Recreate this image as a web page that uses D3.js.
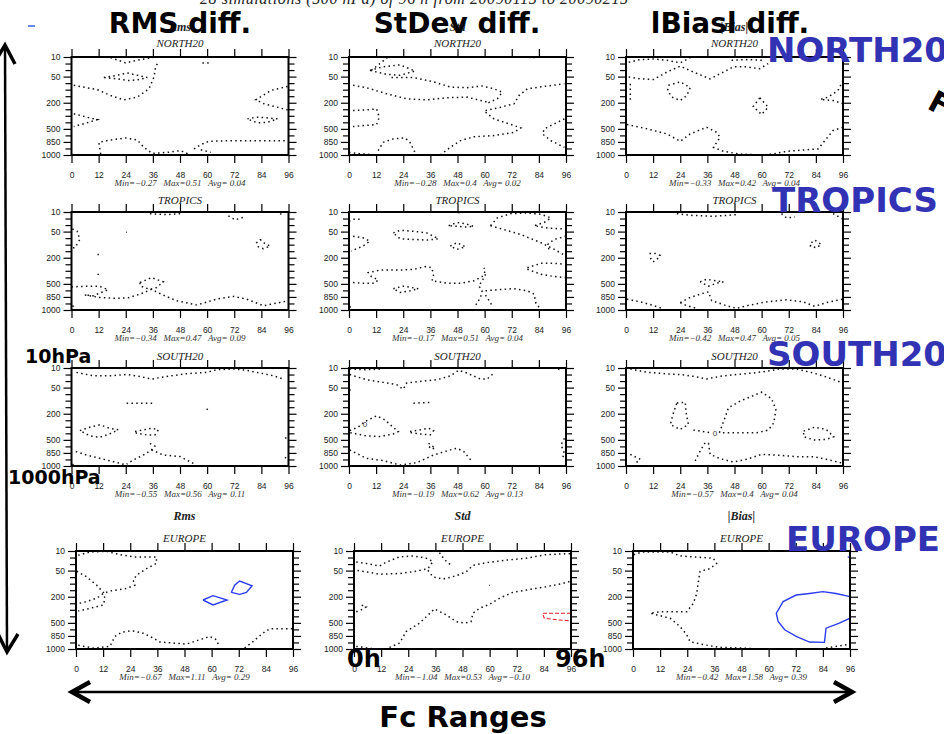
<!DOCTYPE html>
<html><head><meta charset="utf-8">
<script src="https://cdn.jsdelivr.net/npm/d3@7"></script>
<style>body{margin:0;background:#fff}svg{display:block}</style>
</head><body>
<svg id="chart" width="944" height="734"></svg>
<script>
// ---------- data ----------
const regions = ["NORTH20", "TROPICS", "SOUTH20", "EUROPE"];
const statNames = ["Rms", "Std", "|Bias|"];
const headings = ["RMS diff.", "StDev diff.", "lBiasl diff."];
const hourTicks = [0, 12, 24, 36, 48, 60, 72, 84, 96];
const levels = [10, 20, 30, 50, 70, 100, 150, 200, 250, 300, 400, 500, 700, 850, 925, 1000];
const levelLabels = [10, 50, 200, 500, 850, 1000];
const rmsStats  = ["Min=\u22120.27   Max=0.51   Avg= 0.04", "Min=\u22120.34   Max=0.47   Avg= 0.09", "Min=\u22120.55   Max=0.56   Avg= 0.11", "Min=\u22120.67   Max=1.11   Avg= 0.29"];
const stdStats  = ["Min=\u22120.28   Max=0.4   Avg= 0.02", "Min=\u22120.17   Max=0.51   Avg= 0.04", "Min=\u22120.19   Max=0.62   Avg= 0.13", "Min=\u22121.04   Max=0.53   Avg=\u22120.10"];
const biasStats = ["Min=\u22120.33   Max=0.42   Avg= 0.04", "Min=\u22120.42   Max=0.47   Avg= 0.05", "Min=\u22120.57   Max=0.4   Avg= 0.04", "Min=\u22120.42   Max=1.58   Avg= 0.39"];

// zero contours, [forecast hour, pressure hPa]
const north20Rms = [
 [[17.3,11],[23.9,19],[29.1,15],[37.2,10]],
 [[1,80],[11.4,100],[17.3,145],[23.2,178],[29.1,157],[34.3,96],[36.5,51],[37.2,25],[38.7,16]],
 [[14.3,53],[20.2,46],[24.7,39],[29.1,46],[33.5,53],[29.1,60],[24.7,62],[20.2,57],[14.3,53]],
 [[57.9,19],[60.8,19]],
 [[1,285],[6.9,322],[11.4,357],[6.2,414],[1,465]],
 [[95.6,85],[88.2,106],[81.5,178],[85.2,208],[95.6,255]],
 [[77.8,347],[82.3,322],[86.7,332],[91.1,347],[86.7,399],[82.3,409],[77.8,347]],
 [[12.9,989],[12.1,855],[17.3,805],[23.9,758],[29.1,805],[32,912],[35.7,981],[42.4,970],[48.3,950],[52.7,1000]],
 [[54.2,931],[57.2,881],[60.8,835],[71.9,820],[95.6,820]],
 [[57.2,940],[61.6,970]]
];
const north20Std = [
 [[9.9,31],[13.7,20],[16.9,11]],
 [[9.2,31],[15.1,25],[22.6,22],[29.2,33],[22.6,46],[16.6,43],[9.2,31]],
 [[18.8,53],[28.5,53],[37.4,66],[44.8,88],[52.2,91],[58.9,83],[64.1,96],[67.8,119],[65.6,170],[61.1,204]],
 [[1.8,80],[7.7,91],[16.6,131],[25.5,170],[34.4,178],[43.3,162],[52.2,157],[61.1,195]],
 [[60.4,260],[67.1,234],[73,208],[75.2,145],[78.9,96],[86.4,85],[95.3,73]],
 [[60.4,272],[64.1,347],[70,414],[76,485],[73,605],[64.1,705],[55.2,730],[49.3,820],[44.8,912],[40.4,1000]],
 [[1.8,260],[7.7,255],[12.2,247],[13.4,322],[12.2,434],[6.2,450],[1.8,465]],
 [[12.9,950],[15.1,855],[19.6,780],[24.8,758],[27,855],[29.2,970]],
 [[0,970],[4.7,985],[12.2,1000]],
 [[95.3,347],[90.8,424],[86.4,500],[85.6,655],[89.3,820],[95.3,912]],
 [[75.2,10],[83.4,11]]
];
const north20Bias = [
 [[1.2,18],[6.3,14],[12.2,13],[18.1,15],[24,19],[28.4,11]],
 [[1.2,51],[6.3,57],[12.2,59],[18.1,36],[24,24],[29.8,36],[37.2,57],[43.1,36],[47.5,25],[53.4,25],[59.2,28],[62.9,20]],
 [[46.7,15],[53.4,14],[60.7,15]],
 [[1.9,73],[1.9,183]],
 [[18.8,80],[24,66],[28.4,91],[26.9,145],[24,183],[20.3,157],[18.4,106],[18.8,80]],
 [[59.2,162],[62.9,234],[60,290],[56.3,229],[59.2,162]],
 [[0.4,434],[9.3,500],[18.1,655],[24,835],[28.4,655],[35.7,475],[40.1,605],[41.6,743],[38.7,912],[43.1,958],[50.4,989],[59.2,1000],[65.1,989],[71,958],[78.4,942],[85,931],[88.6,780],[91.6,550],[96,475]],
 [[96,62],[93.8,106],[89.4,157],[86,175],[91.6,183],[96,208]]
];
const tropicsRms = [
 [[34.7,12.5],[42.1,14],[48.7,12.5]],
 [[69.4,16],[72.4,22],[76.1,18]],
 [[92.3,12.5],[94.1,16]],
 [[0.4,42],[2.5,49],[3.7,76],[1.5,124],[0,124]],
 [[83.5,76],[84.9,91],[87.9,111],[84.9,131],[82.6,116],[81.9,91],[83.5,76]],
 [[11.5,175],[12.1,175]],
 [[11.8,345],[11.8,365]],
 [[24.1,52],[24.4,52]],
 [[0,590],[6.6,575],[12.5,575],[16.2,680],[12.5,763],[9.6,823],[6.6,808]],
 [[5.9,808],[12.5,856],[19.9,867],[25.1,860],[30.3,786],[35.4,670],[40.6,808],[46.5,893],[55.4,943]],
 [[30.3,480],[35.4,404],[40.6,469],[37.7,612],[34.7,670],[30.3,560],[30.3,480]],
 [[56.9,932],[64.2,875],[71.6,838],[77.5,875],[84.9,951],[90.8,921],[96,893]],
 [[0.4,951],[1.5,970]]
];
const tropicsStd = [
 [[0,24],[1.8,21],[4.7,21]],
 [[1.8,64],[6.2,69],[9.2,84],[6.2,111],[1,149]],
 [[19.6,54],[22.6,46],[28.5,49],[34.4,54],[39.6,73],[34.4,79],[28.5,76],[22.6,73],[19.6,54]],
 [[44.1,32],[47.8,26],[51.5,28],[55.2,34],[51.5,36],[47.8,34],[44.1,32]],
 [[44.8,111],[47.8,91],[51.5,116],[47.8,136],[44.8,111]],
 [[48.5,10],[48.5,12]],
 [[62.6,32],[65.6,19],[71.5,12.5],[78.9,11.5],[84.9,13.5],[89.3,19],[86.4,26],[81.9,32],[87.9,39],[96,42]],
 [[62.6,32],[68.6,44],[76,59],[84.9,91],[90.8,136],[96,187]],
 [[96,64],[90.8,76],[87.9,99],[88.6,149]],
 [[78.9,277],[84.9,243],[90.8,243],[96,250]],
 [[78.9,288],[84.9,353],[90.8,388],[96,404]],
 [[1.8,480],[6.2,490],[11.4,490],[12.9,439],[9.9,388],[8.5,328],[13.7,294],[22.6,294],[28.5,289],[33.7,268],[36.7,277],[37.4,378],[36.7,454],[43.3,490],[49.3,490],[55.2,454],[58.9,388],[60.4,301],[59.7,277]],
 [[19.6,648],[24,570],[30.7,648],[27,709],[22.6,748],[19.6,648]],
 [[60.4,353],[58.9,454],[57.4,560],[58.9,709],[58.2,856],[55.9,951]],
 [[60.4,709],[67.1,670],[73,648],[78.9,709],[81.9,786],[82.7,924],[84.1,970]],
 [[60.4,808],[62.6,915],[63.3,958]],
 [[0.3,960],[1.5,985]]
];
const tropicsBias = [
 [[22.5,12.5],[28.4,15],[38.7,16.6],[49,14]],
 [[68.8,12.5],[71,19],[74.7,17.6]],
 [[91.6,12.5],[96,21]],
 [[82,91],[83.5,79],[86.4,99],[84.2,124],[81.6,111],[82,91]],
 [[10.4,167],[12.9,167],[15.1,182],[13.7,212],[11.9,232],[10.7,199]],
 [[32.8,469],[35.7,429],[40.1,454],[43.1,469],[40.1,490],[36.5,570],[32.8,469]],
 [[0.4,875],[6.3,907],[11.5,943],[15.9,981]],
 [[24,915],[28.4,856],[32.8,786],[36.5,733],[37.9,893],[44.5,951],[48.9,981],[54.8,943],[62.2,907],[71,883],[78.4,907],[83.5,958],[88.6,915],[96,875]],
 [[24,915],[26.9,951],[31.3,981]]
];
const south20Rms = [
 [[2.2,16.7],[9.6,22],[17,22],[24.4,20],[30.3,23],[35.4,27],[42.1,23],[51,18.7],[59.8,16.7],[64.2,12.6],[71.6,11.5],[77.5,13.6],[83.5,17.7],[89.4,22],[93.8,27]],
 [[24.4,119],[36.2,119]],
 [[59.8,170],[60.5,157]],
 [[3.7,358],[8.1,306],[12.5,285],[16.9,322],[20.7,347],[16.9,409],[12.5,460],[8.1,439],[3.7,358]],
 [[28.1,373],[31.8,347],[35.4,322],[38.4,347],[36.9,424],[33.2,424],[28.8,398],[28.1,373]],
 [[34.7,605],[36.9,693],[35.4,780],[31.8,874],[27.3,931],[24.4,978]],
 [[1.9,820],[6.6,874],[12.5,912],[18.5,950],[24.4,989]],
 [[35.4,780],[40.6,874],[48,892],[53.9,970]],
 [[94.5,475],[96,450]],
 [[94.5,912],[95,890]],
 [[0.4,978],[1.5,1000]]
];
const south20Std = [
 [[0.3,11.5],[7.7,12.6],[15.1,11.5]],
 [[0.3,20],[7.7,28],[15.1,34],[21.1,41],[24,55],[25.5,36],[31.5,31],[38.9,28],[44.8,22],[48.5,13.6],[52.2,17.7],[58.2,27],[61.1,27],[64.1,17.7]],
 [[0.3,55],[0.6,60]],
 [[28.5,119],[35.9,113]],
 [[0.3,358],[4,306],[7,260],[12.2,216],[15.9,247],[18.8,293],[21.8,373],[19.6,409],[13.7,450],[7.7,439],[0.3,388]],
 [[27,373],[31.5,347],[35.2,322],[37.4,358],[35.9,424],[31.5,409],[27,388],[27,373]],
 [[35.2,605],[36.7,693],[38.2,728],[36.7,767],[35.2,693]],
 [[0.3,780],[7.7,912],[15.1,938],[22.6,989],[30,962],[37.4,874],[44.8,780],[47.8,743],[50.8,820],[54.5,950]],
 [[95.3,475],[93.8,655],[95.3,855],[94.2,924]],
 [[92.5,11.5],[94,13.6]]
];
const south20Bias = [
 [[1.9,11.5],[9.3,16.6],[16.6,18.6],[24,20],[29.8,22.7],[35.7,26.8],[41.6,22.7],[49,20],[56.3,17.6],[62.2,15],[68.1,11.5],[75.4,11.5],[82.8,17.6],[88.6,23.7],[96,36]],
 [[22.5,117],[26.2,112],[26.6,193],[27.6,282],[24,341],[19.6,282],[21,193],[22.5,117]],
 [[29.8,351],[35.7,381],[37.5,391]],
 [[41.3,391],[43.8,231],[45.3,155],[50.4,104],[60,64],[64.4,91],[66.3,167],[65.4,270],[62.9,351],[57.8,391],[49,391],[41.3,391]],
 [[78.6,366],[83.5,305],[88.6,341],[91.9,452],[88.6,493],[83.5,506],[78.6,452],[78.6,366]],
 [[30.6,942],[32.8,805],[35,588],[36.5,608],[37.2,866],[41.6,916],[47.5,954],[53.4,923],[60,866],[68.1,877],[75.4,893],[82.8,893],[88.6,923],[96,969]],
 [[1.9,866],[6.3,923],[4.1,969]]
];
const europeRms = [
 [[1,16.6],[6.2,11.5],[13.5,10.5],[19.4,15.6],[25.3,19],[35.6,19],[35.6,29],[31.2,44],[26.8,64],[25.3,84],[26.1,111],[22.4,136],[15,156],[12.1,175],[9.1,212],[4.7,237],[0.3,255]],
 [[0.3,52],[4.7,69],[9.1,111],[12.1,167],[12.8,212],[12.1,263],[6.2,289],[1,317]],
 [[1,958],[7.7,989],[15,970],[17.2,856],[20.2,763],[24.6,732],[29.7,786],[34.2,875],[37.1,920],[43,932],[48.9,943],[54.8,893],[59.2,856],[62.1,893],[62.9,943]],
 [[74.6,989],[78.3,915],[82.7,786],[85.7,680],[91.6,680],[96,680]]
];
const europeRmsPos = [
 [[56.2,225],[60.6,192],[66.8,225],[60.6,263],[56.2,225]],
 [[68.7,167],[70.2,111],[72.4,88],[77.9,116],[75.4,167],[72.4,182],[68.7,167]]
];
const europeStd = [
 [[1,27],[5.4,29],[11.3,36],[14.3,27],[20.2,19],[26.1,17.6],[31.9,21],[34.9,26],[32.7,44],[27.5,52],[20.2,59],[11.3,61],[5.4,54],[1,49]],
 [[32.7,49],[34.9,69],[39.3,79],[45.2,66],[49.6,54],[52.6,34],[58.4,28],[67.3,24],[76.1,21],[84.9,15.6],[96,14]],
 [[37.8,12.5],[40,23],[43,34]],
 [[59.9,111],[60.2,113]],
 [[1,330],[3.2,301],[5.4,278],[4,268],[2.2,258]],
 [[1,970],[8.4,997],[14.3,997],[20.2,932],[23.1,748],[29,508],[35.6,293],[40.8,378],[45.2,480],[48.9,508],[51.8,480],[52.6,353],[55.5,289],[59.9,258],[64.3,212],[70.2,167],[76.1,149],[84.9,124],[92.3,99],[96,88]]
];
const europeStdNeg = [
 [[96,353],[83.5,353],[83.5,367],[84.2,429],[90.1,454],[96,470]]
];
const europeBias = [
 [[0.3,15.6],[4,11.5],[16.4,11.5],[20.8,17.6],[26.7,19],[35.5,21],[37,29],[34.1,44],[29.7,52],[28.9,91],[28.2,175],[26.7,250],[23.8,330],[17.9,330],[12,330],[7.6,353],[10.6,378],[16.4,429],[20.8,612],[23.8,823],[25.2,915],[31.1,950],[38.5,981],[47.3,989],[53.1,997]],
 [[85.4,989],[92.8,958],[96,943]]
];
const europeBiasPos = [
 [[96,199],[89.8,175],[84,161],[78.1,175],[72.2,187],[66.4,237],[63.4,353],[64.2,480],[67.1,709],[72.2,856],[78.1,920],[84.7,924],[85.4,662],[91.3,508],[96,429]],
 [[95,19],[96,20]]
];
const south20StdLabels = [[7.1, 280, "0"]];
const south20BiasLabels = [[39.4, 391, "0"]];

// ---------- layout ----------
const svg = d3.select("#chart");
const W = 217, H = 98;
const rowTop = [57, 212, 368, 551];
const colLeft = [[71.5, 349, 626], [71.5, 349, 626], [71.5, 349, 626], [76, 354, 633]];
const titleBase = [47, 204, 360, 542];

const dotted = [[north20Rms, north20Std, north20Bias], [tropicsRms, tropicsStd, tropicsBias],
                [south20Rms, south20Std, south20Bias], [europeRms, europeStd, europeBias]];
const positive = [[[], [], []], [[], [], []], [[], [], []], [europeRmsPos, [], europeBiasPos]];
const negative = [[[], [], []], [[], [], []], [[], [], []], [[], europeStdNeg, []]];
const labels = [[[], [], []], [[], [], []], [[], south20StdLabels, south20BiasLabels], [[], [], []]];
const statsByCol = [rmsStats, stdStats, biasStats];

const serif = "'Liberation Serif','DejaVu Serif',serif";
const sans = "'Liberation Sans',Arial,sans-serif";
const bold = "'DejaVu Sans',Verdana,sans-serif";

// subtitle (cut off at the top)
svg.append("text").attr("x", 200).attr("y", 4)
  .attr("font-family", serif).attr("font-style", "italic").attr("font-size", 16)
  .attr("textLength", 428).attr("fill", "#222")
  .text("28 simulations (500 hPa) of 96 h from 20090115 to 20090215");

regions.forEach((reg, r) => {
  statNames.forEach((st, c) => {
    const left = colLeft[r][c], top = rowTop[r];
    const g = svg.append("g").attr("transform", `translate(${left},${top})`);
    const x = d3.scaleLinear().domain([0, 96]).range([0, W]);
    const y = d3.scaleLinear().domain(levels).range(levels.map((d, i) => i * H / (levels.length - 1)));
    const id = `clip${r}${c}`;
    g.append("clipPath").attr("id", id).append("rect").attr("width", W).attr("height", H);
    const line = d3.line().x(d => x(d[0])).y(d => y(d[1]));
    const cg = g.append("g").attr("clip-path", `url(#${id})`);
    cg.selectAll("path.z").data(dotted[r][c]).join("path").attr("class", "z")
      .attr("d", line).attr("fill", "none").attr("stroke", "#111")
      .attr("stroke-width", 1.5).attr("stroke-dasharray", "1.5 3.3");
    cg.selectAll("path.p").data(positive[r][c]).join("path").attr("class", "p")
      .attr("d", line).attr("fill", "none").attr("stroke", "#2a3cf0").attr("stroke-width", 1.4);
    cg.selectAll("path.n").data(negative[r][c]).join("path").attr("class", "n")
      .attr("d", line).attr("fill", "none").attr("stroke", "#e02424")
      .attr("stroke-width", 1.1).attr("stroke-dasharray", "4 2");
    cg.selectAll("text.l").data(labels[r][c]).join("text").attr("class", "l")
      .attr("x", d => x(d[0])).attr("y", d => y(d[1])).attr("dy", "0.35em")
      .attr("text-anchor", "middle").attr("font-family", sans).attr("font-size", 8).attr("fill", "#333")
      .text(d => d[2]);

    const styleAxis = sel => {
      sel.select(".domain").remove();
      sel.selectAll("line").attr("stroke", "#000").attr("stroke-width", 1.2);
      sel.selectAll("text").attr("font-family", sans).attr("font-size", 8.5).attr("fill", "#222");
    };
    g.append("g").attr("transform", `translate(0,${H})`)
      .call(d3.axisBottom(x).tickValues(hourTicks).tickSize(8).tickPadding(9)).call(styleAxis);
    g.append("g").call(d3.axisTop(x).tickValues(hourTicks).tickSize(8).tickFormat("")).call(styleAxis);
    const gl = g.append("g").call(d3.axisLeft(y).tickValues(levels).tickSize(8).tickPadding(3)
      .tickFormat(d => levelLabels.includes(d) ? d : "")).call(styleAxis);
    gl.selectAll(".tick").filter(d => !levelLabels.includes(d)).select("line").attr("x2", -6);
    const gr = g.append("g").attr("transform", `translate(${W},0)`)
      .call(d3.axisRight(y).tickValues(levels).tickSize(8).tickFormat("")).call(styleAxis);
    gr.selectAll(".tick").filter(d => !levelLabels.includes(d)).select("line").attr("x2", 6);

    g.append("rect").attr("width", W).attr("height", H).attr("fill", "none")
      .attr("stroke", "#000").attr("stroke-width", 2);

    // titles
    svg.append("text").attr("x", left + W / 2).attr("y", titleBase[r]).attr("text-anchor", "middle")
      .attr("font-family", serif).attr("font-style", "italic").attr("font-size", 11).attr("fill", "#222")
      .text(reg);
    if (r === 0 || r === 3) {
      svg.append("text").attr("x", left + W / 2).attr("y", r === 0 ? 31 : 520).attr("text-anchor", "middle")
        .attr("font-family", serif).attr("font-style", "italic").attr("font-weight", "bold")
        .attr("font-size", 12).attr("fill", "#222").text(st);
    }
    svg.append("text").attr("x", left + W / 2).attr("y", top + H + 31).attr("text-anchor", "middle")
      .attr("font-family", serif).attr("font-style", "italic").attr("font-size", 9).attr("fill", "#333")
      .attr("xml:space", "preserve").style("white-space", "pre")
      .text(statsByCol[c][r]);
  });
});

// ---------- slide overlays ----------
svg.append("rect").attr("x", 28).attr("y", 25).attr("width", 7).attr("height", 2).attr("fill", "#6a86e8");

const headX = [180, 457, 730];
headings.forEach((h, i) => svg.append("text").attr("x", headX[i]).attr("y", 33).attr("text-anchor", "middle")
  .attr("font-family", bold).attr("font-weight", "bold").attr("font-size", 28).attr("fill", "#000").text(h));

const regX = [767, 772, 767, 786], regY = [62, 212, 366, 551];
regions.forEach((reg, i) => svg.append("text").attr("x", regX[i]).attr("y", regY[i])
  .attr("font-family", bold).attr("font-weight", "bold").attr("font-size", 34).attr("fill", "#3232b4").text(reg));

svg.append("text").attr("transform", "translate(926,108) rotate(28)")
  .attr("font-family", bold).attr("font-weight", "bold").attr("font-size", 30).attr("fill", "#000").text("F");

// vertical arrow
svg.append("line").attr("x1", 5).attr("y1", 46).attr("x2", 7).attr("y2", 651).attr("stroke", "#000").attr("stroke-width", 2.5);
svg.append("polyline").attr("points", "-4,60 5,45 15,64").attr("fill", "none").attr("stroke", "#000").attr("stroke-width", 3.5);
svg.append("polyline").attr("points", "-2,634 7,652 18,634").attr("fill", "none").attr("stroke", "#000").attr("stroke-width", 3.5);
// horizontal arrow
svg.append("line").attr("x1", 73).attr("y1", 692).attr("x2", 851).attr("y2", 692).attr("stroke", "#000").attr("stroke-width", 2.5);
svg.append("polyline").attr("points", "90,682 72,692 90,702").attr("fill", "none").attr("stroke", "#000").attr("stroke-width", 4.5);
svg.append("polyline").attr("points", "834,682 852,692 834,702").attr("fill", "none").attr("stroke", "#000").attr("stroke-width", 4.5);

const big = (t, x, y, s, anchor) => svg.append("text").attr("x", x).attr("y", y)
  .attr("text-anchor", anchor || "start").attr("font-family", bold).attr("font-weight", "bold")
  .attr("font-size", s).attr("fill", "#000").text(t);
big("10hPa", 25, 363, 19);
big("1000hPa", 8, 484, 19);
big("0h", 347, 667, 24);
big("96h", 555, 667, 24);
big("Fc Ranges", 463, 727, 29, "middle");
</script>
</body></html>
